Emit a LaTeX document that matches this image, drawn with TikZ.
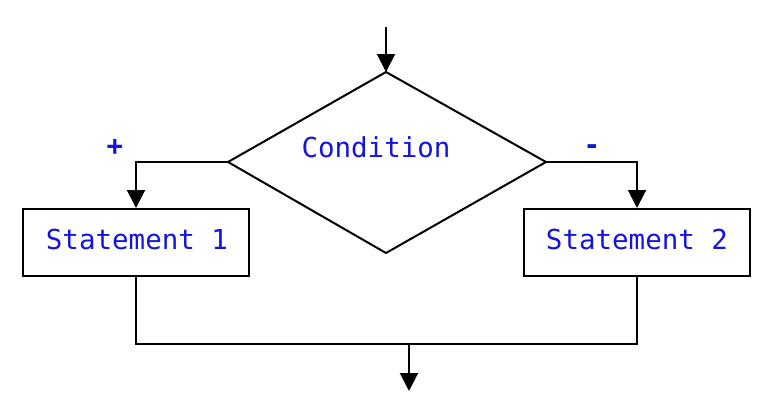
\documentclass[tikz,border=0pt]{standalone}
\usepackage{fontspec}
\setmonofont{DejaVu Sans Mono}
\usetikzlibrary{arrows.meta}
\definecolor{txtblue}{RGB}{20,20,220}
\tikzset{
  line/.style={line width=2pt, black},
  arr/.style={line, -{Triangle[width=18pt,length=18pt]}},
  box/.style={draw, line width=2pt, minimum width=226pt, minimum height=67pt, inner sep=0pt},
  lbl/.style={font=\ttfamily\fontsize{27.5}{30}\selectfont, text=txtblue},
  sgn/.style={font=\ttfamily\bfseries\fontsize{27.5}{30}\selectfont, text=txtblue},
}
\begin{document}
\begin{tikzpicture}[x=1pt,y=-1pt]
\useasboundingbox (0,0) rectangle (776,413);
\coordinate (start) at (386,27);
\coordinate (dt) at (386,72);
\coordinate (dl) at (228,162);
\coordinate (dr) at (546,162);
\coordinate (db) at (386,253);
\draw[line] (dt) -- (dr) -- (db) -- (dl) -- cycle;
\node[lbl] (cond) at (376,147) {Condition};
\node[box] (s1) at (136,242.5) {};
\node[lbl] (s1t) at (137,239) {Statement 1};
\node[box] (s2) at (637,242.5) {};
\node[lbl] (s2t) at (637,239) {Statement 2};
\node[sgn] (plus) at (115,147) {+};
\node[sgn] (minus) at (592,150) {-};
\draw[arr] (start) -- (dt);
\draw[arr] (dl) -| (s1.north);
\draw[arr] (dr) -| (s2.north);
\coordinate (jl) at (136,344);
\coordinate (jr) at (637,344);
\coordinate (jm) at (409,344);
\coordinate (end) at (409,391);
\draw[line] (s1.south) -- (jl) -- (jr) -- (s2.south);
\draw[arr] (jm) -- (end);
\end{tikzpicture}
\end{document}
